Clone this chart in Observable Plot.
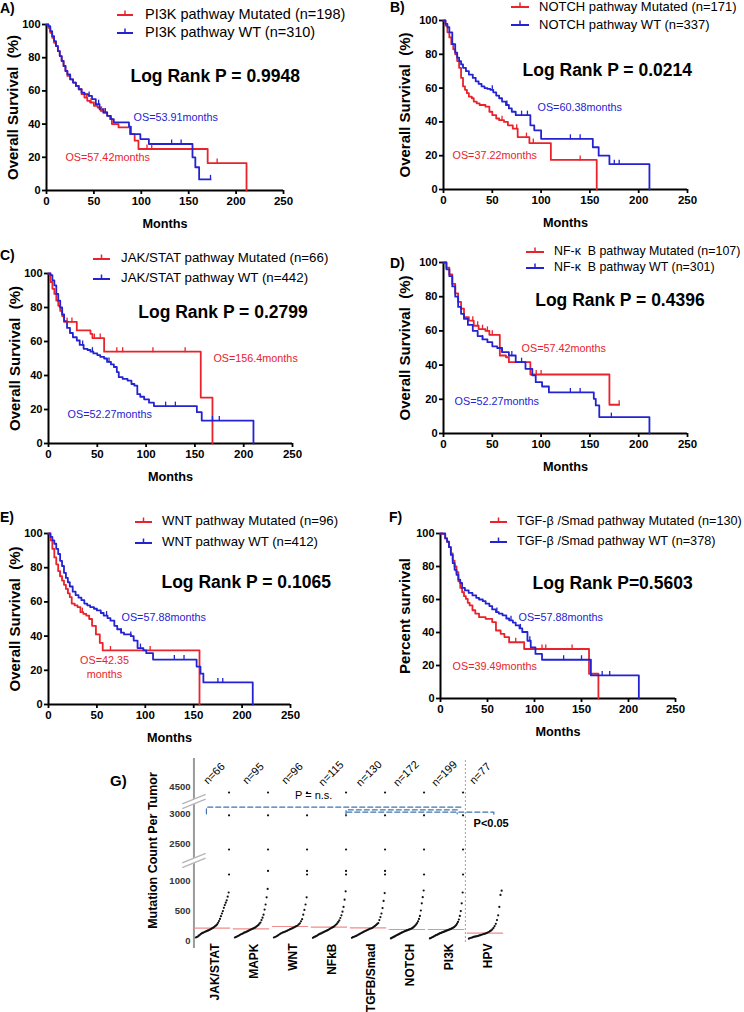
<!DOCTYPE html>
<html>
<head>
<meta charset="utf-8">
<script src="https://cdn.jsdelivr.net/npm/d3@7"></script>
<script src="https://cdn.jsdelivr.net/npm/@observablehq/plot@0.6"></script>
<style>
html,body{margin:0;padding:0;background:#fff;}
#root{position:relative;width:744px;height:1012px;overflow:hidden;font-family:"Liberation Sans",Arial,Helvetica,sans-serif;color:#000;}
.abs{position:absolute;white-space:nowrap;line-height:1;}
.plab{font-weight:bold;font-size:14px;}
</style>
</head>
<body>
<div id="root"></div>
<script>
// ================= DATA =================
const monthTicks = [0, 50, 100, 150, 200, 250];
const survTicks = [0, 20, 40, 60, 80, 100];

// A) PI3K
const aMutT = [0,2,4,6,8,10,12,14,16,18,20,22,25,28,31,34,37,40,43,46,50,54,57,60,64,67,69,76,88,93,97,170,211];
const aMutS = [100,98,95,92,89,87,84,81,78,75,72,69,67,65,63,61,58,56,54,53,51,50,48,47,45,43,40,38,34,30,25,16.5,0];
const aMutC = [42,47,58,62,106,111,180];
const aWtT = [0,2,4,6,8,10,12,14,16,18,20,22,25,28,31,34,37,40,44,48,52,56,60,64,68,71,87,89,99,108,154,157,161,173];
const aWtS = [100,99,96,93,90,87,84,81,78,75,72,70,67,65,63,61,59,58,57,55,52,49,47,45,43,41,38.5,34,31,28,20,14,6.7,6.7];
const aWtC = [45,55,62,132,142,173];

// B) NOTCH
const bMutT = [0,2,4,6,8,10,12,14,16,18,20,22,24,26,29,31,34,37,40,43,47,50,54,57,62,66,71,76,88,110,157];
const bMutS = [100,97,93,90,86,83,80,76,72,66,61,59,57,55,54,52,51,50,50,49,46,44,42,41,40,38,36,31,27.5,17.5,0];
const bMutC = [60,75,85,92,140];
const bWtT = [0,2,4,6,9,12,14,16,18,20,23,26,30,33,36,39,42,45,48,51,54,57,60,64,67,70,74,89,93,100,153,159,170,211];
const bWtS = [100,98,96,93,86,81,78,76,74,72,70,68,66,64,62.5,61,60,59.5,59,57.5,55.6,54,52,50,48,46,44,38,35,30,25,20,15,0];
const bWtC = [50,65,80,86,130,140,175,180];

// C) JAK/STAT
const cMutT = [0,2,4,6,8,10,12,14,16,29,43,45,57,156,168];
const cMutS = [100,95,91,88,84,81,78,75,71.5,66.5,64.5,62,54,27,0];
const cMutC = [19,24,47,53,70,76,107,140];
const cWtT = [0,2,4,6,8,10,12,14,16,19,22,25,29,32,36,40,43,46,50,53,57,60,64,67,70,72,76,81,85,88,91,94,98,103,108,152,157,210];
const cWtS = [100,99,96,93,88,84,80,76,72,68,65,62.5,60.6,58,55.7,55,54,53,52,51,50,48,46.5,45,42,39,38,37,35,34,29,27.5,26,24,22,18.4,13.5,0];
const cWtC = [35,45,62,120,130,168,175];

// D) NF-kB
const dMutT = [0,3,6,9,12,15,18,21,26,31,36,43,47,57.7,64,67,89,170,180];
const dMutS = [100,97,93,87.5,82,77,73,68,66,63,61,60,57.7,45.6,44.6,41.7,34.5,16.8,16.8];
const dMutC = [30,35,40,45,50,95,100,180];
const dWtT = [0,3,6,9,12,15,18,21,25,30,35,40,45,50,55,60,67,74,84,91,94.5,101,108,154,156,159.6,211];
const dWtS = [100,96,92,86,80,74,70,67,63.5,60,57,55,53.4,51,50,47.6,45.6,41.7,37.8,34,30,27.5,24,20.3,16.4,9.6,0];
const dWtC = [40,60,70,80,130,140,172];

// E) WNT
const eMutT = [0,2,4,6,8,10,12,14,16,18,20,22,24,27,30,33,36,39,42,45,49,53,56,156];
const eMutS = [100,96,91,86,82,78,75,72.5,70,67.6,65,62.8,59,58,57,54,53,52,50,46,41,36,31.6,0];
const eMutC = [12,20,35,64,105];
const eWtT = [0,2,4,6,8,10,12,14,16,18,20,22,25,28,31,34,37,40,43,47,50,54,57,61,64,68,71,75,78,85,88,92,98,101,108,153,157,160,211];
const eWtS = [100,98,96,94,91,88,84,81,77,74,71.5,69,66,64,62.5,61,59,58,57,56,55,53.5,52,50.5,49,46,44,42,41,40,37.4,33,31.6,30,26.3,22.2,18,12.9,0];
const eWtC = [60,75,85,95,130,140,175,180];

// F) TGF-beta/Smad
const fMutT = [0,2,5,7,9,11,13,15,17,19,21,23,25,27,29,31,34,37,41,48,55,59,64,68,73,89,158,168];
const fMutS = [100,99.8,97,95,91.7,88,83.6,80,76.6,71,67,64.4,62,60.4,58,56.4,53.5,51.5,49.3,48.3,46.3,41.2,39.2,37.2,34.1,30,15,0];
const fMutC = [80,108,112,140];
const fWtT = [0,2,5,7,9,11,13,15,17,19,21,23,26,30,34,38,41,45,48,52,55,59,62,66,70,73,77,80,84,87,92.5,96,101,108,160,211];
const fWtS = [100,100,97,95,91.7,87,82,78,75,72,70,67,65.5,64,62.5,61,60,59,57.5,56,54,52.4,51.5,50.4,48.5,47.4,46,44.3,42.5,40.3,35,31,27,23.5,14,0];
const fWtC = [60,75,85,95,131,150,172,180];

// G) mutation counts (sorted per group)
const gGroups = ["JAK/STAT","MAPK","WNT","NFkB","TGFB/Smad","NOTCH","PI3K","HPV"];
const gN = [66,95,96,115,130,172,199,77];
const gJak = [50,58,67,80,92,108,118,126,133,142,150,156,163,170,178,187,195,205,214,225,240,252,268,295,325,360,405,450,490,544,590,630,670,730,800];
const gMapk = [50,58,66,75,83,95,104,112,120,130,137,145,152,160,170,178,186,194,202,210,220,232,245,260,280,300,340,380,430,515,600,720,860];
const gWnt = [50,58,67,78,90,104,115,125,134,140,148,157,166,175,184,193,202,211,220,230,240,250,268,286,320,356,430,510,600,720];
const gNfkb = [45,55,64,72,82,95,105,113,120,130,139,148,155,163,172,182,193,204,214,222,235,250,267,285,310,335,375,420,480,560,680,820];
const gTgfb = [45,55,62,70,77,86,96,106,115,125,135,145,153,162,170,178,186,194,200,207,220,232,244,260,276,292,340,390,450,540,660,790];
const gNotch = [35,44,52,60,68,78,86,94,102,110,120,127,135,142,150,156,162,168,174,180,185,192,200,210,220,235,250,268,290,320,360,410,500,620,722,833];
const gPi3k = [35,42,50,58,65,75,84,92,98,105,115,122,128,135,141,147,152,160,166,172,177,184,190,198,207,216,225,240,255,280,310,350,410,490,620,800];
const gHpv = [30,40,46,52,60,64,68,72,78,84,90,96,104,110,116,124,132,142,155,168,185,210,240,278,340,420,560,760,830];
const gOutJak = [1100,2400,2970,4400];
const gOutMapk = [1160,2400,2970,4400];
const gOutWnt = [1100,1160,2400,2970,4400];
const gOutNfkb = [1100,1160,2400,2970,4400];
const gOutTgfb = [1100,1160,2400,2970,4400];
const gOutNotch = [1100,2400,2970,4400];
const gOutPi3k = [1100,2400,2970,4400];
const gOutHpv = [];
const gMedians = [206,194,233,222,211,183,183,122];
const gTickValues = [0,500,1000,2500,3000,4500];

// ================= RENDER =================
const FONT = '"Liberation Sans", Arial, Helvetica, sans-serif';
const RED = "#e8232b", BLUE = "#2323d2";
const root = document.getElementById("root");

function stepAt(T, S, t) { let s = S[0]; for (let i = 0; i < T.length; i++) if (T[i] <= t) s = S[i]; return s; }
function series(T, S) { return T.map((t, i) => ({t, s: S[i]})); }
const censorSymbol = { draw(ctx, size) { const r = Math.sqrt(size / Math.PI); ctx.moveTo(0, 0.5); ctx.lineTo(0, -r); } };

function addHTML(html) { root.insertAdjacentHTML("beforeend", html); }

function legend(lg) {
  const w = lg.sw[1] - lg.sw[0];
  lg.rows.forEach((row, i) => {
    const c = i === 0 ? RED : BLUE;
    addHTML(`<div class="abs" style="left:${lg.sw[0]}px;top:${row - 6}px"><svg width="${w}" height="10" style="display:block"><line x1="0" y1="7" x2="${w}" y2="7" stroke="${c}" stroke-width="2"/><line x1="${w/2}" y1="7" x2="${w/2}" y2="2.5" stroke="${c}" stroke-width="1.5"/></svg></div>`);
    addHTML(`<div class="abs" style="left:${lg.tx}px;top:${row}px;transform:translateY(-50%);font-size:${lg.fs}px">${lg.labels[i]}</div>`);
  });
}

function kmPanel(p) {
  const ML = 50, MR = 20, MT = 12, MB = 45;
  const [x0, x1, y0, y1] = p.box;
  const mut = series(p.mutT, p.mutS), wt = series(p.wtT, p.wtS);
  const mutC = p.mutC.map(t => ({t, s: stepAt(p.mutT, p.mutS, t)}));
  const wtC = p.wtC.map(t => ({t, s: stepAt(p.wtT, p.wtS, t)}));
  const svg = Plot.plot({
    width: x1 - x0 + ML + MR, height: y1 - y0 + MT + MB,
    marginLeft: ML, marginRight: MR, marginTop: MT, marginBottom: MB,
    x: {domain: [0, 250]}, y: {domain: [0, 100]},
    style: {fontFamily: FONT, color: "#000", background: "transparent", overflow: "visible"},
    marks: [
      Plot.axisX({ticks: monthTicks, tickSize: 4, tickPadding: 2, strokeWidth: 1.8, fontSize: 11.5, fontWeight: "bold", label: null}),
      Plot.axisY({ticks: survTicks, tickSize: 4, tickPadding: 2, strokeWidth: 1.8, fontSize: 11, fontWeight: "bold", label: null}),
      Plot.ruleY([0], {x1: 0, x2: 250, stroke: "#000", strokeWidth: 2}),
      Plot.ruleX([0], {y1: 0, y2: 100, stroke: "#000", strokeWidth: 2}),
      Plot.line(mut, {x: "t", y: "s", curve: "step-after", stroke: RED, strokeWidth: 1.8}),
      Plot.line(wt, {x: "t", y: "s", curve: "step-after", stroke: BLUE, strokeWidth: 1.8}),
      Plot.dot(mutC, {x: "t", y: "s", r: 4.5, symbol: censorSymbol, stroke: RED, fill: "none", strokeWidth: 1.3}),
      Plot.dot(wtC, {x: "t", y: "s", r: 4.5, symbol: censorSymbol, stroke: BLUE, fill: "none", strokeWidth: 1.3}),
      Plot.text([p.logRank], {x: d => d[0], y: d => d[1], text: d => d[2], textAnchor: "start", fontSize: 17.5, fontWeight: "bold", fill: "#000"}),
      Plot.text([p.osRed], {x: d => d[0], y: d => d[1], text: d => d[2], textAnchor: p.osRedAnchor || "start", lineHeight: 1.3, fontSize: 10.8, fill: RED}),
      Plot.text([p.osBlue], {x: d => d[0], y: d => d[1], text: d => d[2], textAnchor: "start", fontSize: 10.8, fill: BLUE}),
      Plot.text([p.yTitle], {text: d => d, frameAnchor: "left", textAnchor: "middle", lineAnchor: "middle", dx: p.ytDx, rotate: -90, fontSize: 15, fontWeight: "bold", fill: "#000"}),
      Plot.text(["Months"], {text: d => d, frameAnchor: "bottom", textAnchor: "middle", lineAnchor: "middle", dy: 33, fontSize: 12.7, fontWeight: "bold", fill: "#000"})
    ]
  });
  svg.style.position = "absolute";
  svg.style.left = (x0 - ML) + "px";
  svg.style.top = (y0 - MT) + "px";
  root.appendChild(svg);
  legend(p.legend);
  addHTML(`<div class="abs plab" style="left:${p.letter[1]}px;top:${p.letter[2]}px;transform:translateY(-50%)">${p.letter[0]}</div>`);
}

kmPanel({
  box: [46, 283, 24, 190], mutT: aMutT, mutS: aMutS, mutC: aMutC, wtT: aWtT, wtS: aWtS, wtC: aWtC,
  logRank: [88.6, 69, "Log Rank P = 0.9948"],
  osRed: [20, 20.5, "OS=57.42months"], osBlue: [91.8, 44, "OS=53.91months"],
  yTitle: "Overall Survival  (%)", ytDx: -33,
  legend: {sw: [117, 133], tx: 145, rows: [14, 32], fs: 14.5, labels: ["PI3K pathway Mutated (n=198)", "PI3K pathway WT (n=310)"]},
  letter: ["A)", 0, 8]
});
kmPanel({
  box: [443, 687, 20, 189], mutT: bMutT, mutS: bMutS, mutC: bMutC, wtT: bWtT, wtS: bWtS, wtC: bWtC,
  logRank: [81, 70.4, "Log Rank P = 0.0214"],
  osRed: [9.2, 20.7, "OS=37.22months"], osBlue: [96.3, 48.5, "OS=60.38months"],
  yTitle: "Overall Survival  (%)", ytDx: -38,
  legend: {sw: [511, 529], tx: 539, rows: [6, 24], fs: 13, labels: ["NOTCH pathway Mutated (n=171)", "NOTCH pathway WT (n=337)"]},
  letter: ["B)", 390, 7]
});
kmPanel({
  box: [48, 292, 273, 443], mutT: cMutT, mutS: cMutS, mutC: cMutC, wtT: cWtT, wtS: cWtS, wtC: cWtC,
  logRank: [92, 77, "Log Rank P = 0.2799"],
  osRed: [169, 50.6, "OS=156.4months"], osBlue: [19.5, 17, "OS=52.27months"],
  yTitle: "Overall Survival  (%)", ytDx: -33,
  legend: {sw: [93, 110], tx: 121, rows: [258, 278], fs: 13.3, labels: ["JAK/STAT pathway Mutated (n=66)", "JAK/STAT pathway WT (n=442)"]},
  letter: ["C)", 0, 255]
});
kmPanel({
  box: [443, 687, 262, 433], mutT: dMutT, mutS: dMutS, mutC: dMutC, wtT: dWtT, wtS: dWtS, wtC: dWtC,
  logRank: [94, 77.8, "Log Rank P = 0.4396"],
  osRed: [80, 50.3, "OS=57.42months"], osBlue: [11.3, 18.7, "OS=52.27months"],
  yTitle: "Overall Survival  (%)", ytDx: -38,
  legend: {sw: [526, 544], tx: 554, rows: [251, 267], fs: 12.4, labels: ["NF-κ&nbsp; B pathway Mutated (n=107)", "NF-κ&nbsp; B pathway WT (n=301)"]},
  letter: ["D)", 390, 263]
});
kmPanel({
  box: [48, 290, 533, 704], mutT: eMutT, mutS: eMutS, mutC: eMutC, wtT: eWtT, wtS: eWtS, wtC: eWtC,
  logRank: [116.7, 71.3, "Log Rank P = 0.1065"],
  osRed: [57.9, 22.2, "OS=42.35\nmonths"], osRedAnchor: "middle", osBlue: [75.4, 50.9, "OS=57.88months"],
  yTitle: "Overall Survival  (%)", ytDx: -33,
  legend: {sw: [135, 152], tx: 162, rows: [521, 542], fs: 13.2, labels: ["WNT pathway Mutated (n=96)", "WNT pathway WT (n=412)"]},
  letter: ["E)", 0, 517]
});
kmPanel({
  box: [440, 675, 533, 698], mutT: fMutT, mutS: fMutS, mutC: fMutC, wtT: fWtT, wtS: fWtS, wtC: fWtC,
  logRank: [98, 69.7, "Log Rank P=0.5603"],
  osRed: [12.8, 20, "OS=39.49months"], osBlue: [83, 49, "OS=57.88months"],
  yTitle: "Percent survival", ytDx: -35,
  legend: {sw: [490, 507], tx: 517, rows: [521, 541], fs: 12.7, labels: ["TGF-β /Smad pathway Mutated (n=130)", "TGF-β /Smad pathway WT (n=378)"]},
  letter: ["F)", 389, 517]
});

// ---------- Panel G ----------
function brk(v) { return v <= 1300 ? v : v <= 3500 ? v - 883 : v - 1933; }
const gCurves = [gJak, gMapk, gWnt, gNfkb, gTgfb, gNotch, gPi3k, gHpv];
const gOuts = [gOutJak, gOutMapk, gOutWnt, gOutNfkb, gOutTgfb, gOutNotch, gOutPi3k, gOutHpv];
const gDots = [];
gCurves.forEach((vals, i) => {
  const n = vals.length;
  vals.forEach((v, k) => gDots.push({x: i + 0.01 + 0.84 * k / (n - 1), y: brk(v)}));
  gOuts[i].forEach(v => gDots.push({x: i + 0.86, y: brk(v)}));
});
const gMedRows = gMedians.map((m, i) => ({x1: i - 0.03, x2: i + 0.9, y: brk(m)}));
const nPos = [0.48, 0.48, 0.48, 0.48, 0.45, 0.4, 0.38, 0.3];
const gNRows = gN.map((n, i) => ({x: i + nPos[i], label: "n=" + n}));
const gCatRows = gGroups.map((g, i) => ({x: i + 0.5, label: g}));
const tickLabel = new Map(gTickValues.map(v => [brk(v), String(v)]));
const gBreaks = [2317, 1333];
const gBrackets = [
  {id: 1, x: 0.28, y: 2111}, {id: 1, x: 0.28, y: 2222}, {id: 1, x: 6.87, y: 2222},
  {id: 2, x: 3.86, y: 2083}, {id: 2, x: 3.86, y: 2178}, {id: 2, x: 6.71, y: 2178}, {id: 2, x: 6.71, y: 2111},
  {id: 3, x: 3.88, y: 2139}, {id: 3, x: 7.65, y: 2139}, {id: 3, x: 7.65, y: 2083}
];
{
  const ML = 95, MR = 15, MT = 15, MB = 72;
  const svg = Plot.plot({
    width: ML + 312 + MR, height: MT + 180 + MB,
    marginLeft: ML, marginRight: MR, marginTop: MT, marginBottom: MB,
    x: {domain: [0, 8], axis: null}, y: {domain: [0, 3000]},
    style: {fontFamily: FONT, color: "#000", background: "transparent", overflow: "visible"},
    marks: [
      Plot.ruleX([-0.04], {y1: -133, y2: 3033, stroke: "#9a9a9a", strokeWidth: 2}),
      Plot.link(gBreaks, {x1: -0.34, x2: 0.26, y1: d => d - 80, y2: d => d + 80, stroke: "#fff", strokeWidth: 5}),
      Plot.link(gBreaks.flatMap(d => [d - 40, d + 40]), {x1: -0.34, x2: 0.26, y1: d => d - 80, y2: d => d + 80, stroke: "#b5b5b5", strokeWidth: 1.3}),
      Plot.axisY({ticks: gTickValues.map(brk), tickFormat: d => tickLabel.get(d), tickSize: 0, tickPadding: 5, fontSize: 9.5, fontWeight: "bold", fill: "#333", label: null}),
      Plot.ruleX([6.92], {y1: -33, y2: 3033, stroke: "#a0a0a0", strokeWidth: 1, strokeDasharray: "2,2"}),
      Plot.ruleY(gMedRows, {x1: "x1", x2: "x2", y: "y", stroke: "#f08c8c", strokeWidth: 1.2}),
      Plot.dot(gDots, {x: "x", y: "y", r: 1.1, fill: "#111", stroke: "none"}),
      Plot.line(gBrackets, {x: "x", y: "y", z: "id", stroke: "#3f74ad", strokeWidth: 1.2, strokeDasharray: "5,3"}),
      Plot.text(["P = n.s."], {text: d => d, x: 3.03, y: 2410, fontSize: 11, fill: "#000"}),
      Plot.text(["P<0.05"], {text: d => d, x: 7.13, y: 1950, textAnchor: "start", fontSize: 11, fontWeight: "bold", fill: "#000"}),
      Plot.text(gNRows, {x: "x", y: 2783, text: "label", rotate: -45, fontSize: 11, fill: "#000"}),
      Plot.text(gCatRows, {x: "x", y: -50, text: "label", rotate: -90, textAnchor: "end", fontSize: 12, fontWeight: "bold", fill: "#000"}),
      Plot.text(["Mutation Count Per Tumor"], {text: d => d, frameAnchor: "left", textAnchor: "middle", lineAnchor: "middle", dx: -43, rotate: -90, fontSize: 12.5, fontWeight: "bold", fill: "#000"})
    ]
  });
  svg.style.position = "absolute";
  svg.style.left = (195 - ML) + "px";
  svg.style.top = (760 - MT) + "px";
  root.appendChild(svg);
  addHTML(`<div class="abs" style="left:110px;top:780px;transform:translateY(-50%);font-weight:bold;font-size:15px">G)</div>`);
}
</script>
</body>
</html>
